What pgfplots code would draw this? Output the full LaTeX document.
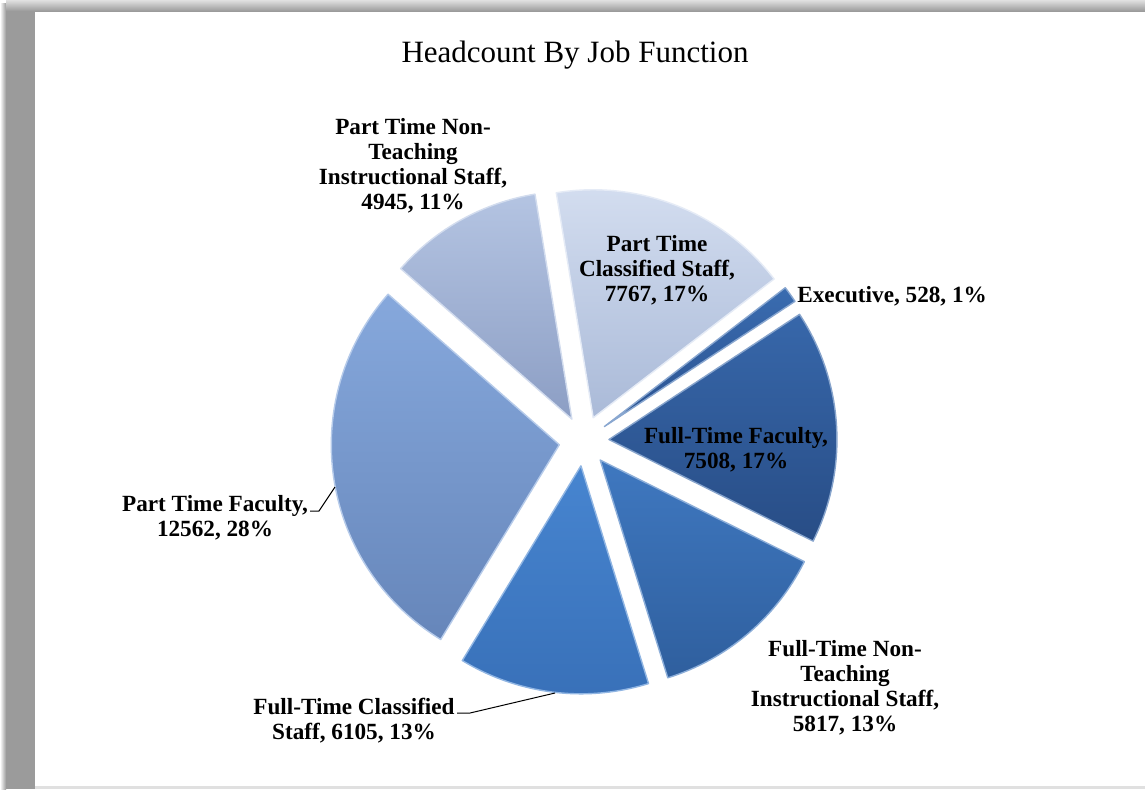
\documentclass[border=0pt]{standalone}
\usepackage{pgfplots}
\usepackage{pgfplotstable}
\usepackage{fontspec}
\setmainfont{Liberation Serif}
\pgfplotsset{compat=1.18}
\usetikzlibrary{shadings}

% headcount by job function, clockwise from the Executive slice
\pgfplotstableread[col sep=comma]{
name,value
Executive,528
FTFaculty,7508
FTNonTeach,5817
FTClassified,6105
PTFaculty,12562
PTNonTeach,4945
PTClassified,7767
}\headcount

% slice colours (top / bottom of the gradient)
\definecolor{topc0}{HTML}{3A6CB0}\definecolor{botc0}{HTML}{2A5290}
\definecolor{topc1}{HTML}{3767AA}\definecolor{botc1}{HTML}{284D86}
\definecolor{topc2}{HTML}{3F78C0}\definecolor{botc2}{HTML}{2F5F9E}
\definecolor{topc3}{HTML}{4785D0}\definecolor{botc3}{HTML}{3870B8}
\definecolor{topc4}{HTML}{86A8DC}\definecolor{botc4}{HTML}{6686BA}
\definecolor{topc5}{HTML}{B4C4E2}\definecolor{botc5}{HTML}{8C9EC4}
\definecolor{topc6}{HTML}{D4DEF0}\definecolor{botc6}{HTML}{AABAD8}
\definecolor{framegray}{HTML}{9B9B9B}

\begin{document}
\begin{tikzpicture}
% totals (in thousands, pgfmath overflows above 16383) and cumulative angles
\xdef\total{0}
\foreach \i in {0,...,6}{
  \pgfplotstablegetelem{\i}{value}\of\headcount
  \pgfmathparse{\total+\pgfplotsretval/1000}\xdef\total{\pgfmathresult}
}
\xdef\cum{37.5}
\foreach \i in {0,...,6}{
  \pgfplotstablegetelem{\i}{value}\of\headcount
  \pgfmathsetmacro\ea{\cum-360*(\pgfplotsretval/1000)/\total}
  \pgfmathsetmacro\md{(\cum+\ea)/2}
  \pgfmathsetmacro\cx{584+25*cos(\md)}
  \pgfmathsetmacro\cy{441-25*sin(\md)}
  \expandafter\xdef\csname sa\i\endcsname{\cum}
  \expandafter\xdef\csname ea\i\endcsname{\ea}
  \expandafter\xdef\csname cx\i\endcsname{\cx}
  \expandafter\xdef\csname cy\i\endcsname{\cy}
  \xdef\cum{\ea}
}
\def\R{114pt}
\begin{axis}[
    scale only axis,
    width=572.5pt, height=394.5pt,
    xmin=0, xmax=1145, ymin=0, ymax=789,
    y dir=reverse,
    hide axis,
    clip=false,
]
% page frame
\fill[white] (axis cs:0,0) rectangle (axis cs:1145,789);
\fill[left color=white, right color=framegray] (axis cs:0,3) rectangle (axis cs:6,789);
\fill[framegray] (axis cs:6,3) rectangle (axis cs:35,789);
\fill[top color=white!88!black, bottom color=framegray] (axis cs:6,0) rectangle (axis cs:1145,11);
\fill[white!88!black] (axis cs:35,786) rectangle (axis cs:1145,789);

% slices
\pgfplotsinvokeforeach{0,...,6}{
  \path[top color=topc#1, bottom color=botc#1, draw=topc#1!60!white, line width=0.7pt, line join=round]
    (axis cs:\csname cx#1\endcsname,\csname cy#1\endcsname)
    -- ++(\csname sa#1\endcsname:\R)
    arc[start angle=\csname sa#1\endcsname, end angle=\csname ea#1\endcsname, radius=\R]
    -- cycle;
}

% title
\node[font=\fontsize{15.5}{18}\selectfont] at (axis cs:575,55) {Headcount By Job Function};

% labels
\begin{scope}[every node/.style={font=\bfseries\fontsize{11.6}{12.5}\selectfont, align=center, inner sep=0pt}]
\node at (axis cs:413,165.5) {Part Time Non-\\Teaching\\Instructional Staff,\\4945, 11\%};
\node at (axis cs:657,270) {Part Time\\Classified Staff,\\7767, 17\%};
\node[anchor=west] at (axis cs:797,296) {Executive, 528, 1\%};
\node at (axis cs:736,449.5) {Full-Time Faculty,\\7508, 17\%};
\node at (axis cs:845,688) {Full-Time Non-\\Teaching\\Instructional Staff,\\5817, 13\%};
\node at (axis cs:354,720.5) {Full-Time Classified\\Staff, 6105, 13\%};
\node at (axis cs:215,517.5) {Part Time Faculty,\\12562, 28\%};
\end{scope}

% leader lines
\draw[black, line width=0.5pt] (axis cs:310,511) -- (axis cs:319,511) -- (axis cs:335,487);
\draw[black, line width=0.5pt] (axis cs:457,713) -- (axis cs:470,713) -- (axis cs:555,693);
\end{axis}
\end{tikzpicture}
\end{document}
